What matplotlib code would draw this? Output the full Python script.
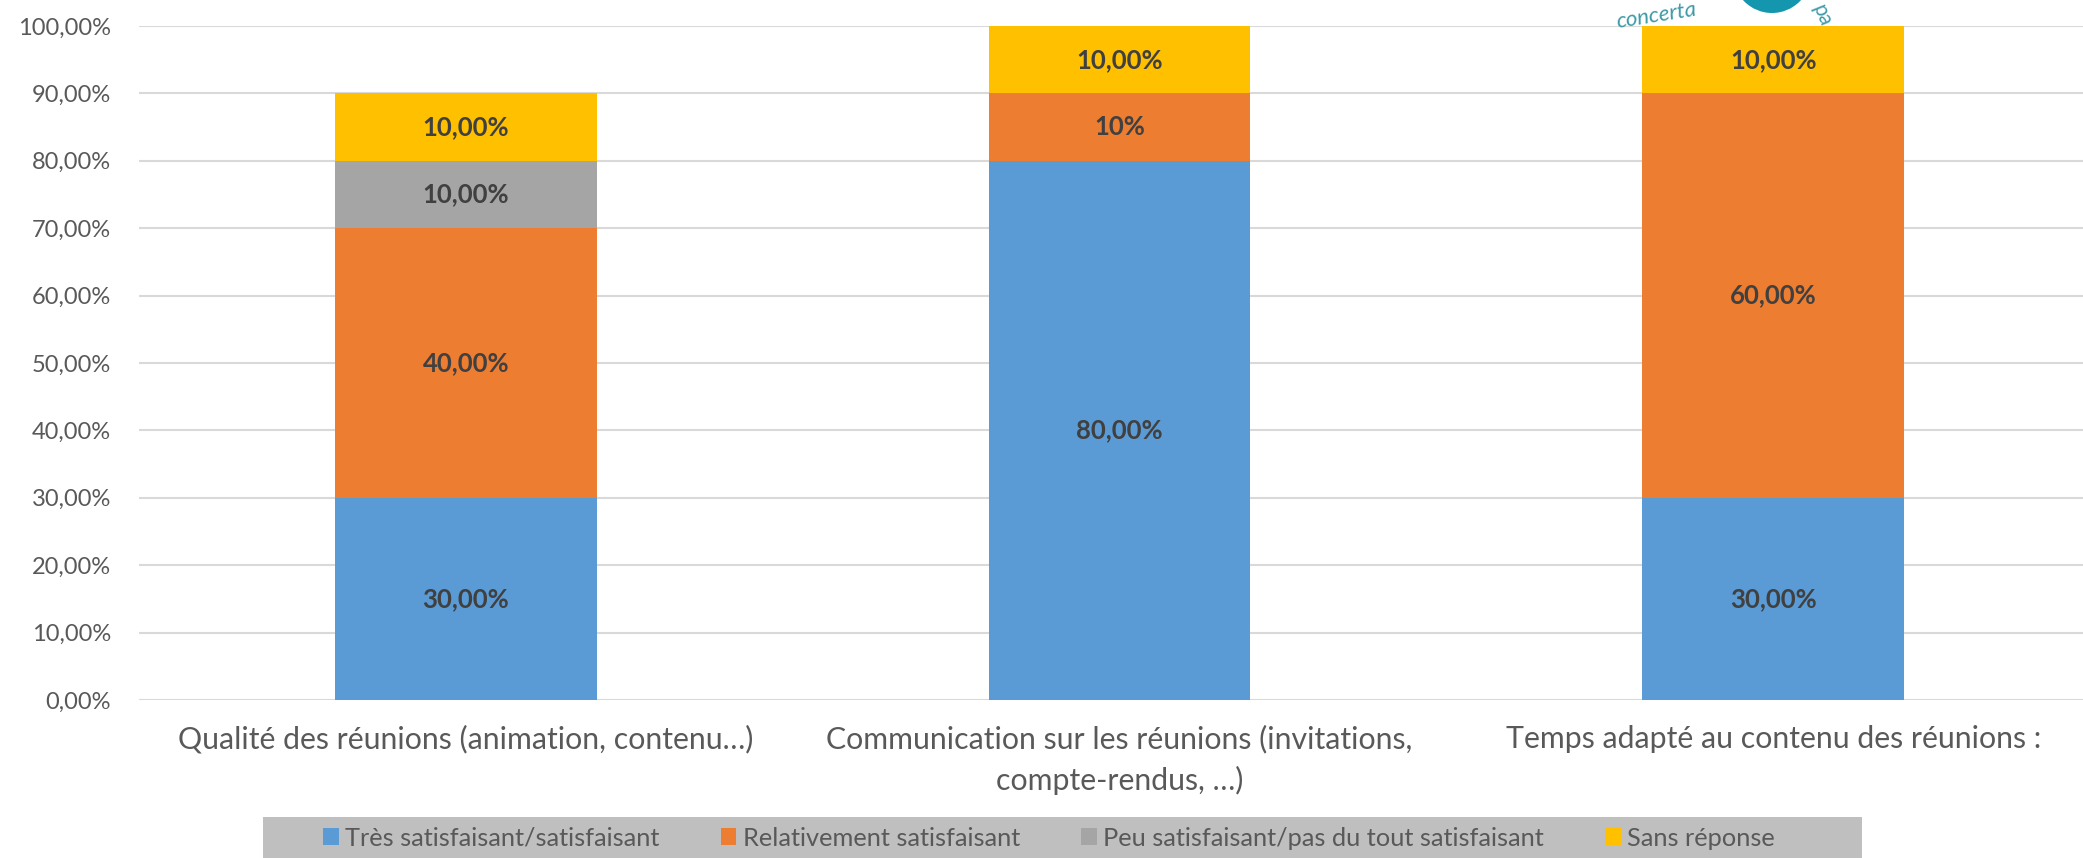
import matplotlib
matplotlib.use("Agg")
import matplotlib.pyplot as plt
from matplotlib.patches import Ellipse, Rectangle
import numpy as np

categories = ["Qualité des réunions (animation, contenu…)",
              "Communication sur les réunions (invitations,\ncompte-rendus, …)",
              "Temps adapté au contenu des réunions :"]
series_names = ["Très satisfaisant/satisfaisant", "Relativement satisfaisant",
                "Peu satisfaisant/pas du tout satisfaisant", "Sans réponse"]
tres = [30, 80, 30]
relativement = [40, 10, 60]
peu = [10, 0, 0]
sans = [10, 10, 10]
labels_tres = ["30,00%", "80,00%", "30,00%"]
labels_rel = ["40,00%", "10%", "60,00%"]
labels_peu = ["10,00%", "", ""]
labels_sans = ["10,00%", "10,00%", "10,00%"]
yticks = [0, 10, 20, 30, 40, 50, 60, 70, 80, 90, 100]
ytick_labels = ["0,00%", "10,00%", "20,00%", "30,00%", "40,00%", "50,00%",
                "60,00%", "70,00%", "80,00%", "90,00%", "100,00%"]

colors = ["#5B9BD5", "#ED7D31", "#A5A5A5", "#FFC000"]
FONT = ["Lato", "DejaVu Sans"]
plt.rcParams['font.family'] = FONT

W, H = 2083, 858
fig = plt.figure(figsize=(W / 100, H / 100), dpi=100)
ax = fig.add_axes([139 / W, 1 - 700 / H, 1961 / W, 674 / H])

x = np.arange(len(categories))
width = 0.4
bottom = np.zeros(len(categories))
all_series = [tres, relativement, peu, sans]
all_labels = [labels_tres, labels_rel, labels_peu, labels_sans]
for vals, labs, col, name in zip(all_series, all_labels, colors, series_names):
    vals = np.array(vals, dtype=float)
    ax.bar(x, vals, width, bottom=bottom, color=col, label=name, zorder=3)
    for xi, b, v, lab in zip(x, bottom, vals, labs):
        if v > 0 and lab:
            ax.text(xi, b + v / 2, lab, ha="center", va="center",
                    fontsize=18.5, fontweight="bold", color="#404040", zorder=4)
    bottom += vals

ax.set_xlim(-0.5, 2.5)
ax.set_ylim(0, 100)
ax.set_yticks(yticks)
ax.set_yticklabels(ytick_labels)
ax.set_xticks(x)
ax.set_xticklabels(categories, linespacing=1.5)
ax.tick_params(axis="y", length=0, pad=20, labelsize=17, labelcolor="#595959")
ax.tick_params(axis="x", length=0, pad=18, labelsize=21.8, labelcolor="#595959")
ax.grid(axis="y", color="#D9D9D9", linewidth=1.5, zorder=0)
for s in ax.spines.values():
    s.set_visible(False)

# legend background box
fig.patches.append(Rectangle((263 / W, 0), (1862 - 263) / W, 41 / H,
                             transform=fig.transFigure, facecolor="#BFBFBF",
                             edgecolor="none", zorder=0))
leg = fig.legend(loc="center", bbox_to_anchor=(1049 / W, 1 - 838 / H), ncol=4,
                 frameon=False, fontsize=18.3, handlelength=0.62, handleheight=0.62,
                 handletextpad=0.25, columnspacing=2.4, borderpad=0,
                 borderaxespad=0)
for t in leg.get_texts():
    t.set_color("#595959")

# partial logo at top right
fig.patches.append(Ellipse((1772 / W, 1 + 26 / H), 2 * 39 / W, 2 * 39 / H,
                           transform=fig.transFigure, facecolor="#1497AE",
                           edgecolor="none", zorder=5))
fig.text(1615 / W, 1 - 16 / H, "concerta", fontsize=16, color="#3E9AA8",
         rotation=9, ha="left", va="center", style="italic")
fig.text(1822 / W, 1 - 15 / H, "pa", fontsize=15, color="#3E9AA8",
         rotation=-68, ha="center", va="center")

fig.savefig("out.png", dpi=100)
